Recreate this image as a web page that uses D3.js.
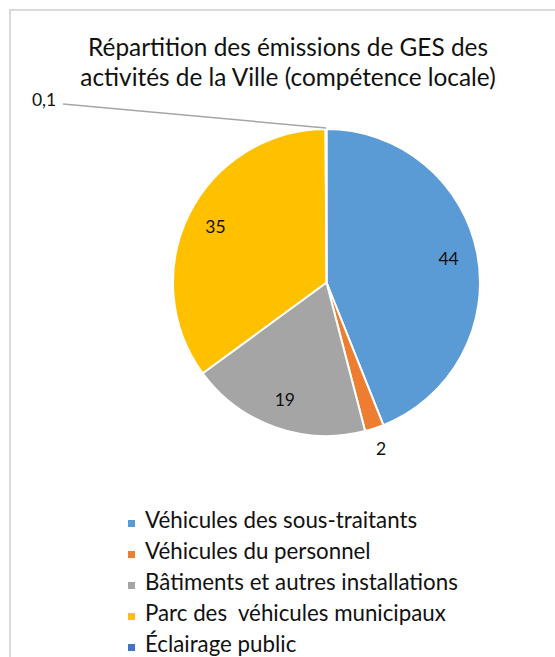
<!DOCTYPE html>
<html>
<head>
<meta charset="utf-8">
<script src="https://cdn.jsdelivr.net/npm/d3@7"></script>
<style>
  body { margin: 0; background: #fff; }
  svg { display: block; font-family: Lato, "Open Sans", sans-serif; }
  text { white-space: pre; }
</style>
</head>
<body>
<svg id="pieChart"></svg>
<script>
const width = 555;
const height = 657;

const titleLines = ["Répartition des émissions de GES des", "activités de la Ville (compétence locale)"];
const categories = [
  "Véhicules des sous-traitants",
  "Véhicules du personnel",
  "Bâtiments et autres installations",
  "Parc des  véhicules municipaux",
  "Éclairage public"
];
const values = [44, 2, 19, 35, 0.1];
const labels = ["44", "2", "19", "35", "0,1"];
const colors = ["#5b9bd5", "#ed7d31", "#a5a5a5", "#ffc000", "#4472c4"];

const svg = d3.select("#pieChart")
  .attr("width", width)
  .attr("height", height);

// chart frame (runs off right and bottom edge)
svg.append("rect")
  .attr("x", 10).attr("y", 10)
  .attr("width", 560).attr("height", 660)
  .attr("fill", "#fff")
  .attr("stroke", "#d9d9d9")
  .attr("stroke-width", 2);

// shrink/grow a text node so it spans a target width
function fit(sel, target) {
  const node = sel.node();
  const fs = parseFloat(sel.style("font-size"));
  const w = node.getComputedTextLength();
  sel.style("font-size", (fs * target / w).toFixed(2) + "px");
}

const title = svg.append("g").attr("fill", "#111");
title.selectAll("text")
  .data(titleLines)
  .join("text")
  .attr("x", 288)
  .attr("y", (d, i) => 56 + i * 30)
  .attr("text-anchor", "middle")
  .style("font-size", "20px")
  .text(d => d);
fit(title.select("text"), 400);
title.selectAll("text").style("font-size", title.select("text").style("font-size"));

const cx = 326.5, cy = 282.5, r = 153.5;
const g = svg.append("g").attr("transform", `translate(${cx},${cy})`);

const pie = d3.pie().sort(null).value(d => d.value);
const arcs = pie(values.map((v, i) => ({ value: v, name: categories[i], label: labels[i], color: colors[i] })));
const arc = d3.arc().innerRadius(0).outerRadius(r);

g.selectAll("path")
  .data(arcs)
  .join("path")
  .attr("d", arc)
  .attr("fill", d => d.data.color)
  .attr("stroke", "#fff")
  .attr("stroke-width", 2)
  .attr("stroke-linejoin", "round");

const tiny = d => d.value < 1;
const small = d => d.value < 5;
const labelArc = d3.arc().innerRadius(r * 0.81).outerRadius(r * 0.81);
const outerArc = d3.arc().innerRadius(r * 1.14).outerRadius(r * 1.14);
const edgeArc = d3.arc().innerRadius(r).outerRadius(r);

const labelPos = d => {
  if (tiny(d)) {
    const p = edgeArc.centroid(d);
    return [p[0] - 282, p[1] - 29];
  }
  return small(d) ? outerArc.centroid(d) : labelArc.centroid(d);
};

// leader line for the tiny slice
g.selectAll("polyline")
  .data(arcs.filter(tiny))
  .join("polyline")
  .attr("points", d => {
    const p = edgeArc.centroid(d);
    const l = labelPos(d);
    return [[p[0], p[1] - 1], [l[0] + 19, l[1] + 4]].join(" ");
  })
  .attr("fill", "none")
  .attr("stroke", "#a6a6a6")
  .attr("stroke-width", 1.5);

g.selectAll("text")
  .data(arcs)
  .join("text")
  .attr("transform", d => `translate(${labelPos(d)})`)
  .attr("text-anchor", "middle")
  .attr("dy", "0.36em")
  .attr("fill", "#111")
  .style("font-size", "17.5px")
  .text(d => d.data.label);

// legend
const legend = svg.append("g").attr("transform", "translate(128,528)");
const rows = legend.selectAll("g")
  .data(categories)
  .join("g")
  .attr("transform", (d, i) => `translate(0,${i * 31})`);

rows.append("rect")
  .attr("x", 0).attr("y", -8)
  .attr("width", 7).attr("height", 7)
  .attr("fill", (d, i) => colors[i]);

rows.append("text")
  .attr("x", 17)
  .attr("fill", "#111")
  .style("font-size", "19px")
  .text(d => d);

const longest = rows.filter((d, i) => i === 2).select("text");
fit(longest, 313);
rows.selectAll("text").style("font-size", longest.style("font-size"));
</script>
</body>
</html>
